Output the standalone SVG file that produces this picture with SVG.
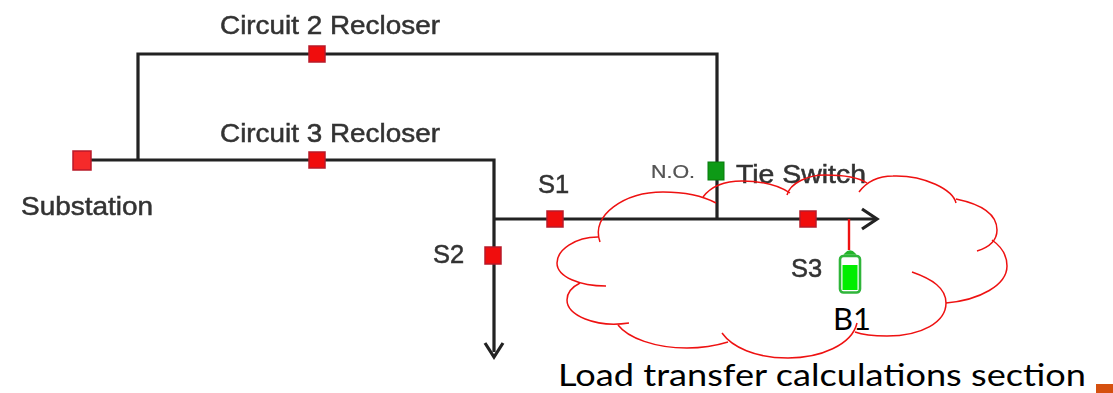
<svg xmlns="http://www.w3.org/2000/svg" width="1113" height="393" viewBox="0 0 1113 393">
<style>
.w{fill:none;stroke:#222;stroke-width:3.2}
.r{fill:#f01010;stroke:#b81a2a;stroke-width:1.5}
.t{font-family:"Liberation Sans",Arial,sans-serif;font-size:25.5px;fill:#333;stroke:#333;stroke-width:.5}
.c{fill:none;stroke:#ee1111;stroke-width:1.5}
.k{font-family:Lato,"Open Sans",sans-serif;font-size:31.5px;fill:#000}
</style>
<defs><filter id="b" x="-10%" y="-10%" width="120%" height="120%"><feGaussianBlur stdDeviation="0.6"/></filter></defs>
<g id="connectors" filter="url(#b)">
<path class="w" d="M90 160H494V352"/>
<path class="w" d="M138 160V54H717V219"/>
<path class="w" d="M494 219H876"/>
<path class="w" d="M862 209L877 219L862 229"/>
<path class="w" d="M485 343L494 357L503 343"/>
</g>
<g id="substation" filter="url(#b)"><rect class="r" x="73" y="151" width="18" height="19" style="fill:#f52a2a"/><text class="t" x="21" y="215" textLength="132" lengthAdjust="spacingAndGlyphs">Substation</text></g>
<g id="circuit2" filter="url(#b)"><rect class="r" x="309" y="46" width="16" height="16"/><text class="t" x="220" y="34" textLength="220" lengthAdjust="spacingAndGlyphs">Circuit 2 Recloser</text></g>
<g id="circuit3" filter="url(#b)"><rect class="r" x="309" y="152" width="16" height="16"/><text class="t" x="220" y="142" textLength="220" lengthAdjust="spacingAndGlyphs">Circuit 3 Recloser</text></g>
<g id="s1" filter="url(#b)"><rect class="r" x="547" y="211" width="16" height="16"/><text class="t" x="538" y="193">S1</text></g>
<g id="s2" filter="url(#b)"><rect class="r" x="485" y="247" width="16" height="17"/><text class="t" x="433" y="263">S2</text></g>
<g id="s3" filter="url(#b)"><rect class="r" x="800" y="211" width="16" height="16"/><text class="t" x="791" y="277">S3</text></g>
<g id="tie-switch" filter="url(#b)"><rect x="708" y="162" width="16" height="18" fill="#0a9a12" stroke="#0b7a10"/><text class="t" x="651" y="178" style="font-size:19px;stroke-width:.2;fill:#555" textLength="44" lengthAdjust="spacingAndGlyphs">N.O.</text><text class="t" x="736" y="183" textLength="130" lengthAdjust="spacingAndGlyphs">Tie Switch</text></g>
<g id="b1">
<path d="M849 219V250" fill="none" stroke="#ee1111" stroke-width="2.4"/>
<path d="M845 254Q850 248 855 254Z" fill="#22b52a" stroke="#22b52a" stroke-width="1.5"/>
<rect x="840" y="256" width="20" height="36.500" rx="3.500" fill="#fff" stroke="#2fb53a" stroke-width="2.600"/>
<rect x="842.500" y="265" width="15" height="25" fill="#00ee00"/>
<text class="k" x="833" y="330" textLength="38" lengthAdjust="spacingAndGlyphs">B1</text>
</g>
<g id="cloud">
<path class="c" d="M600 242C590 215 625 192 663 192C685 192 703 196 716 203"/>
<path class="c" d="M703 197C712 185 728 181 742 181C760 181 778 185 790 193"/>
<path class="c" d="M787 195C790 183 808 175 825 175C842 175 858 177 867 183"/>
<path class="c" d="M859 192C868 180 880 176 893 176C925 175 953 190 956 203"/>
<path class="c" d="M956 199C985 205 997 216 997 230C997 240 990 247 977 251"/>
<path class="c" d="M992 240C1002 247 1007 256 1007 266C1007 285 980 300 946 303"/>
<path class="c" d="M912 272C932 279 946 288 946 303C946 322 922 336 887 336C873 336 863 335 855 332"/>
<path class="c" d="M857 323C852 345 820 358 788 358C755 358 732 347 722 333"/>
<path class="c" d="M728 342C715 346 700 348 687 348C655 348 628 338 618 325"/>
<path class="c" d="M629 323C595 328 567 315 567 300C567 293 572 287 580 283"/>
<path class="c" d="M606 286C580 286 557 277 557 263C557 250 575 237 598 237"/>
</g>
<g id="caption"><text class="k" x="558" y="386" textLength="528" lengthAdjust="spacingAndGlyphs">Load transfer calculations section</text></g>
<rect id="corner" x="1096" y="384" width="17" height="9" fill="#d5500f"/>
</svg>
